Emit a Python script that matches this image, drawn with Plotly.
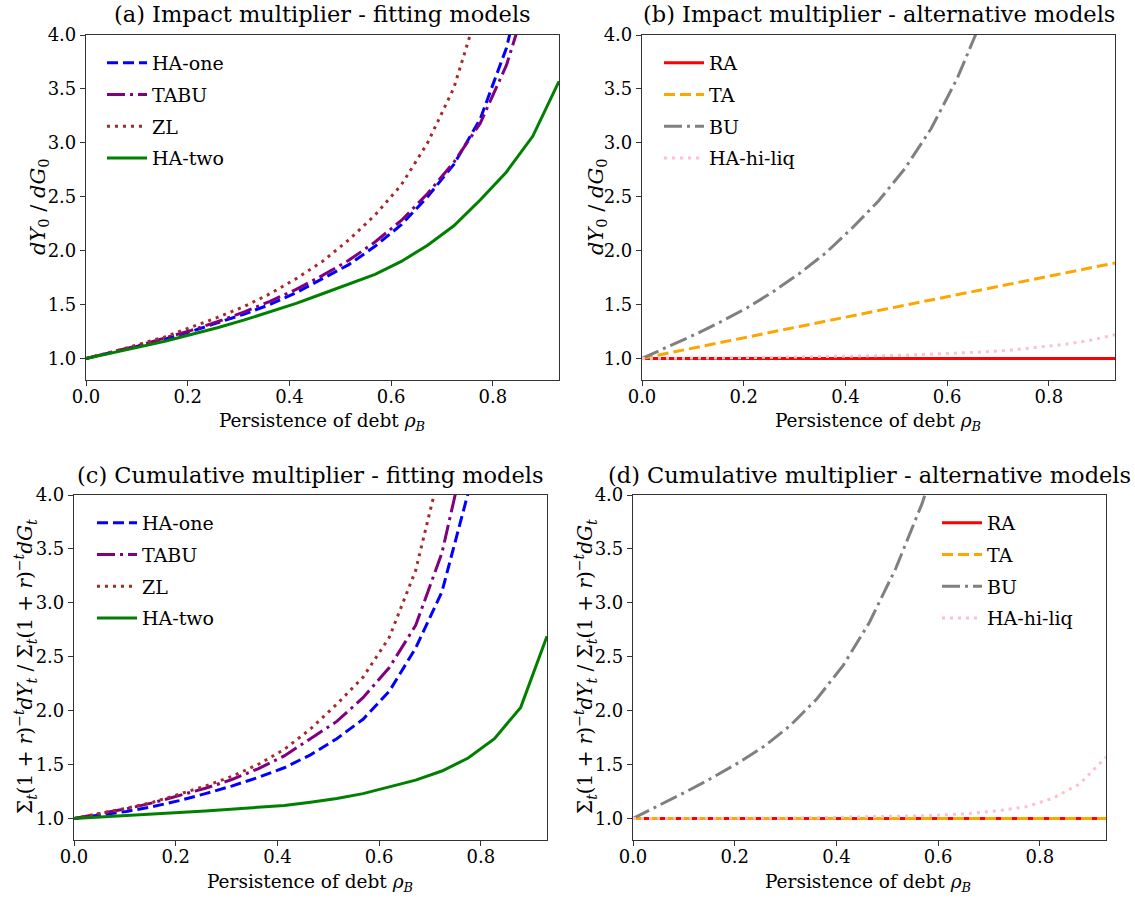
import plotly.graph_objects as go

# ---------------- data ----------------
rho = [0.0, 0.0517, 0.1033, 0.155, 0.2067, 0.2583, 0.31, 0.3617, 0.4133, 0.465,
       0.5167, 0.5683, 0.62, 0.6717, 0.7233, 0.775, 0.8267, 0.8783, 0.93]

a_ha_one = [1.0, 1.055, 1.115, 1.18, 1.25, 1.33, 1.41, 1.50, 1.61, 1.74, 1.87, 2.04, 2.24, 2.50, 2.80, 3.22, 3.88, 4.9, 6.3]
a_tabu = [1.0, 1.058, 1.12, 1.19, 1.26, 1.34, 1.43, 1.53, 1.64, 1.77, 1.91, 2.08, 2.28, 2.53, 2.82, 3.18, 3.72, 4.5, 5.8]
a_zl = [1.0, 1.06, 1.13, 1.20, 1.29, 1.38, 1.48, 1.60, 1.74, 1.90, 2.10, 2.33, 2.61, 3.0, 3.51, 4.3, 5.5, 7.5, 10.5]
a_ha_two = [1.0, 1.05, 1.105, 1.16, 1.22, 1.285, 1.355, 1.43, 1.51, 1.60, 1.69, 1.78, 1.90, 2.05, 2.23, 2.47, 2.73, 3.06, 3.57]

b_ra = [1.0, 1.0, 1.0, 1.0, 1.0, 1.0, 1.0, 1.0, 1.0, 1.0, 1.0, 1.0, 1.0, 1.0, 1.0, 1.0, 1.0, 1.0, 1.0]
b_ta = [1.000, 1.048, 1.097, 1.147, 1.197, 1.247, 1.297, 1.346, 1.395, 1.444, 1.493, 1.542, 1.591, 1.640, 1.690, 1.739, 1.788, 1.837, 1.886]
b_bu = [1.0, 1.11, 1.22, 1.34, 1.47, 1.62, 1.79, 1.98, 2.21, 2.46, 2.76, 3.13, 3.60, 4.18, 4.9, 5.8, 7.0, 8.5, 10.5]
b_hi_liq = [1.0, 1.0, 1.003, 1.005, 1.008, 1.01, 1.013, 1.016, 1.02, 1.025, 1.03, 1.038, 1.047, 1.06, 1.077, 1.10, 1.128, 1.165, 1.22]

c_ha_one = [1.0, 1.03, 1.065, 1.11, 1.165, 1.23, 1.30, 1.38, 1.47, 1.59, 1.74, 1.92, 2.18, 2.58, 3.1, 4.02, 5.6, 8.5, 14.0]
c_tabu = [1.0, 1.045, 1.09, 1.145, 1.21, 1.28, 1.36, 1.46, 1.58, 1.74, 1.90, 2.12, 2.40, 2.79, 3.46, 4.53, 6.5, 10.0, 16.0]
c_zl = [1.0, 1.045, 1.095, 1.15, 1.225, 1.30, 1.39, 1.50, 1.64, 1.83, 2.06, 2.31, 2.68, 3.30, 4.3, 6.0, 9.0, 14.0, 22.0]
c_ha_two = [1.0, 1.012, 1.025, 1.04, 1.055, 1.07, 1.085, 1.10, 1.12, 1.15, 1.185, 1.23, 1.29, 1.355, 1.44, 1.56, 1.74, 2.03, 2.69]

d_ra = [1.0, 1.0, 1.0, 1.0, 1.0, 1.0, 1.0, 1.0, 1.0, 1.0, 1.0, 1.0, 1.0, 1.0, 1.0, 1.0, 1.0, 1.0, 1.0]
d_ta = [1.0, 1.0, 1.0, 1.0, 1.0, 1.0, 1.0, 1.0, 1.0, 1.0, 1.0, 1.0, 1.0, 1.0, 1.0, 1.0, 1.0, 1.0, 1.0]
d_bu = [1.0, 1.12, 1.245, 1.375, 1.515, 1.67, 1.865, 2.11, 2.42, 2.82, 3.32, 3.92, 4.65, 5.6, 6.9, 8.6, 10.5, 13.0, 16.0]
d_hi_liq = [1.0, 1.0, 1.001, 1.002, 1.003, 1.004, 1.005, 1.007, 1.01, 1.013, 1.018, 1.025, 1.035, 1.05, 1.075, 1.11, 1.19, 1.32, 1.57]

x_ticks = [0.0, 0.2, 0.4, 0.6, 0.8]
y_ticks = [1.0, 1.5, 2.0, 2.5, 3.0, 3.5, 4.0]

titles = ["(a) Impact multiplier - fitting models",
          "(b) Impact multiplier - alternative models",
          "(c) Cumulative multiplier - fitting models",
          "(d) Cumulative multiplier - alternative models"]

# ---------------- styling ----------------
W, H = 1135, 905
FONT = "DejaVu Serif"
DASH = "11px,5px"
DASHDOT = "18px,5px,3px,5px"
DOT = "3px,5px"
LW = 3

# panel pixel boxes: (left, right, top, bottom)
boxes = [(86, 559, 35, 380), (642, 1115, 35, 380), (74, 547, 495, 840), (633, 1106, 495, 840)]
# text centres (pixels)
title_y = [14, 14, 475, 475]
xlab_pos = [(322, 422), (878, 422), (310, 883), (868, 883)]
ylab_pos = [(39, 207), (597, 207), (25, 667), (585, 667)]
ylab_size = [21, 21, 20, 20]
legend_pos = [(102, 44), (659, 44), (92, 504), (937, 504)]

fig = go.Figure()

panels = [
    ("legend", [("HA-one", a_ha_one, "blue", DASH), ("TABU", a_tabu, "purple", DASHDOT),
                ("ZL", a_zl, "brown", DOT), ("HA-two", a_ha_two, "green", "solid")]),
    ("legend2", [("RA", b_ra, "red", "solid"), ("TA", b_ta, "orange", DASH),
                 ("BU", b_bu, "gray", DASHDOT), ("HA-hi-liq", b_hi_liq, "pink", DOT)]),
    ("legend3", [("HA-one", c_ha_one, "blue", DASH), ("TABU", c_tabu, "purple", DASHDOT),
                 ("ZL", c_zl, "brown", DOT), ("HA-two", c_ha_two, "green", "solid")]),
    ("legend4", [("RA", d_ra, "red", "solid"), ("TA", d_ta, "orange", DASH),
                 ("BU", d_bu, "gray", DASHDOT), ("HA-hi-liq", d_hi_liq, "pink", DOT)]),
]

ylab_impact = "<i>dY</i><sub>0</sub> / <i>dG</i><sub>0</sub>"
ylab_cum = ("Σ<sub><i>t</i></sub>(1 + <i>r</i>)<sup>−<i>t</i></sup><i>dY</i><sub><i>t</i></sub> / "
            "Σ<sub><i>t</i></sub>(1 + <i>r</i>)<sup>−<i>t</i></sup><i>dG</i><sub><i>t</i></sub>")
xlab = "Persistence of debt <i>ρ</i><sub><i>B</i></sub>"

layout = dict(width=W, height=H, margin=dict(l=0, r=0, t=0, b=0),
              paper_bgcolor="white", plot_bgcolor="white",
              font=dict(family=FONT, size=18, color="black"),
              showlegend=True, annotations=[])

for k, (leg, series) in enumerate(panels):
    xa = "x" if k == 0 else f"x{k+1}"
    ya = "y" if k == 0 else f"y{k+1}"
    for j, (name, vals, col, dash) in enumerate(series):
        fig.add_trace(go.Scatter(x=rho, y=vals, mode="lines", name=name,
                                 line=dict(color=col, width=LW, dash=dash),
                                 xaxis=xa, yaxis=ya, legend=leg,
                                 legendgroup=f"{leg}_{j}"))
    l, r, t, b = boxes[k]
    axkey = "" if k == 0 else str(k + 1)
    layout[f"xaxis{axkey}"] = dict(
        domain=[l / W, r / W], anchor=ya, range=[0, 0.93],
        tickvals=x_ticks, ticktext=[f"{v:.1f}" for v in x_ticks],
        ticks="outside", ticklen=5, tickcolor="#333", showline=True, linecolor="#333",
        linewidth=1.2, mirror=True, showgrid=False, zeroline=False, automargin=False,
        tickfont=dict(size=18), ticklabelstandoff=-5)
    layout[f"yaxis{axkey}"] = dict(
        domain=[1 - b / H, 1 - t / H], anchor=xa, range=[0.8, 4.0],
        tickvals=y_ticks, ticktext=[f"{v:.1f}" for v in y_ticks],
        ticks="outside", ticklen=5, tickcolor="#333", showline=True, linecolor="#333",
        linewidth=1.2, mirror=True, showgrid=False, zeroline=False, automargin=False,
        tickfont=dict(size=18))
    lx, ly = legend_pos[k]
    layout[leg] = dict(x=lx / W, y=1 - ly / H, xanchor="left", yanchor="top",
                       bgcolor="rgba(0,0,0,0)", font=dict(size=19), tracegroupgap=4,
                       itemwidth=40)
    layout["annotations"].append(dict(
        text=titles[k], x=(l + r) / 2 / W, y=1 - title_y[k] / H, xref="paper", yref="paper",
        showarrow=False, font=dict(size=22.5), xanchor="center", yanchor="middle"))
    xx, xy = xlab_pos[k]
    layout["annotations"].append(dict(
        text=xlab, x=xx / W, y=1 - xy / H, xref="paper", yref="paper",
        showarrow=False, font=dict(size=18.5), xanchor="center", yanchor="middle"))
    yx, yy = ylab_pos[k]
    layout["annotations"].append(dict(
        text=ylab_impact if k < 2 else ylab_cum, x=yx / W, y=1 - yy / H,
        xref="paper", yref="paper", textangle=-90,
        showarrow=False, font=dict(size=ylab_size[k]), xanchor="center", yanchor="middle"))

fig.update_layout(**layout)
fig.write_html("out.html", config={"displayModeBar": False},
               post_script="document.body.style.margin='0';")
